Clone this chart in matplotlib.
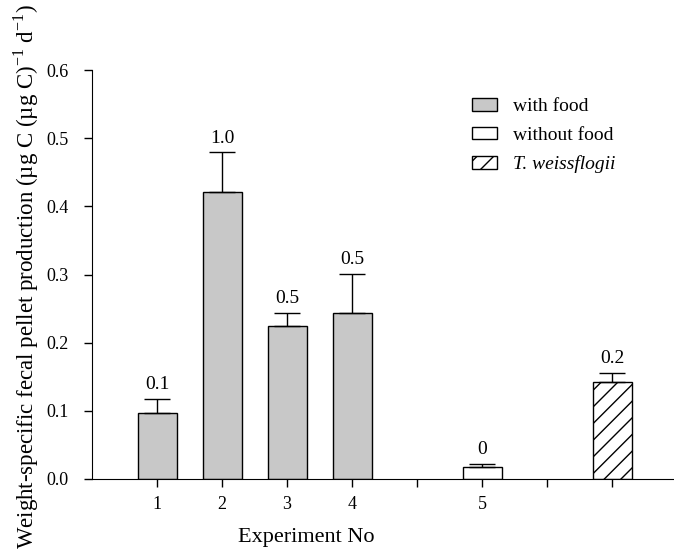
import matplotlib
matplotlib.use("Agg")
import matplotlib.pyplot as plt
from matplotlib.patches import Patch

plt.rcParams['font.family'] = ['Liberation Serif', 'DejaVu Serif']
plt.rcParams['hatch.linewidth'] = 1.0
plt.rcParams['mathtext.fontset'] = 'custom'
plt.rcParams['mathtext.rm'] = 'Liberation Serif'

# Data
food_pos = [1, 2, 3, 4]
food_vals = [0.097, 0.421, 0.224, 0.243]
food_err = [0.020, 0.058, 0.020, 0.058]
food_labels = ["0.1", "1.0", "0.5", "0.5"]

nofood_pos = [6]
nofood_vals = [0.018]
nofood_err = [0.004]
nofood_labels = ["0"]

tw_pos = [8]
tw_vals = [0.143]
tw_err = [0.013]
tw_labels = ["0.2"]

tick_pos = [1, 2, 3, 4, 5, 6, 7, 8]
tick_labels = ["1", "2", "3", "4", "", "5", "", ""]

fig = plt.figure(figsize=(6.74, 5.54), dpi=100)
ax = fig.add_axes([0.1365, 0.1354, 0.8635, 0.7382])

w = 0.6
ekw = dict(capsize=9.5, capthick=1, elinewidth=1, ecolor='black')
ax.bar(food_pos, food_vals, w, color='#c8c8c8', edgecolor='black', linewidth=1)
ax.errorbar(food_pos, food_vals, yerr=[[0]*4, food_err], fmt='none', **ekw)
ax.bar(nofood_pos, nofood_vals, w, color='white', edgecolor='black', linewidth=1)
ax.errorbar(nofood_pos, nofood_vals, yerr=[[0], nofood_err], fmt='none', **ekw)
ax.bar(tw_pos, tw_vals, w, color='white', edgecolor='black', linewidth=1, hatch='//')
ax.errorbar(tw_pos, tw_vals, yerr=[[0], tw_err], fmt='none', **ekw)

for pos, vals, errs, labs in [(food_pos, food_vals, food_err, food_labels),
                              (nofood_pos, nofood_vals, nofood_err, nofood_labels),
                              (tw_pos, tw_vals, tw_err, tw_labels)]:
    for p, v, e, l in zip(pos, vals, errs, labs):
        ax.text(p, v + e + 0.0145, l, ha='center', va='baseline', fontsize=14)

ax.set_xlim(0, 8.95)
ax.set_ylim(0, 0.6)
ax.set_yticks([0.0, 0.1, 0.2, 0.3, 0.4, 0.5, 0.6])
ax.set_yticklabels(["0.0", "0.1", "0.2", "0.3", "0.4", "0.5", "0.6"])
ax.set_xticks(tick_pos)
ax.set_xticklabels(tick_labels)
ax.tick_params(axis='both', labelsize=13, direction='out', length=6, width=1)
ax.tick_params(axis='x', pad=6)
ax.tick_params(axis='y', pad=11)
for s in ['top', 'right']:
    ax.spines[s].set_visible(False)

ax.set_xlabel("Experiment No", fontsize=16, va='center')
ax.xaxis.set_label_coords(0.368, -0.144)
ax.set_ylabel(r"Weight-specific fecal pellet production (µg C (µg C)$^{-1}$ d$^{-1}$)",
              fontsize=16.5, va='center')
ax.yaxis.set_label_coords(-0.113, 0.495)

handles = [Patch(facecolor='#c8c8c8', edgecolor='black', label='with food'),
           Patch(facecolor='white', edgecolor='black', label='without food'),
           Patch(facecolor='white', edgecolor='black', hatch='//', label='T. weissflogii')]
leg = ax.legend(handles=handles, loc='upper left', bbox_to_anchor=(0.653, 0.931), frameon=False,
                fontsize=14, handlelength=1.29, handleheight=0.62, handletextpad=0.82,
                labelspacing=0.59, borderpad=0, borderaxespad=0)
leg.get_texts()[2].set_style('italic')

fig.savefig("out.png", dpi=100)
